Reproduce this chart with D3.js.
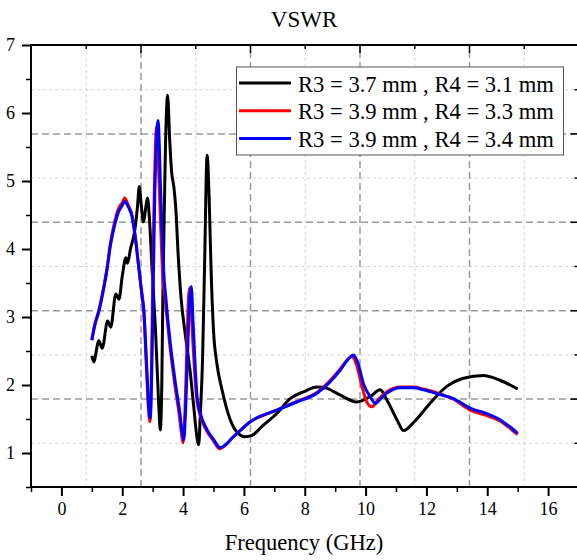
<!DOCTYPE html>
<html>
<head>
<meta charset="utf-8">
<script src="https://cdn.jsdelivr.net/npm/d3@7"></script>
<style>
  body { margin: 0; background: #fff; }
  text { font-family: "Liberation Serif", "Times New Roman", serif; }
</style>
</head>
<body>
<div id="chart"></div>
<script>
// frequency (GHz), VSWR
const seriesBlack = [
  [1.00, 2.43], [1.06, 2.34], [1.23, 2.65], [1.34, 2.54], [1.52, 2.94], [1.62, 2.85],
  [1.79, 3.34], [1.89, 3.26], [2.00, 3.60], [2.12, 3.87], [2.17, 3.79], [2.27, 4.00],
  [2.42, 4.30], [2.50, 4.62], [2.56, 4.92], [2.63, 4.62], [2.70, 4.40], [2.77, 4.60],
  [2.83, 4.75], [2.90, 4.40], [2.98, 3.70], [3.09, 2.84], [3.20, 1.70], [3.25, 1.34],
  [3.30, 2.00], [3.34, 3.50], [3.42, 5.50], [3.49, 6.26], [3.56, 5.60], [3.62, 5.15],
  [3.70, 4.90], [3.76, 4.60], [3.84, 3.90], [3.93, 3.30], [4.07, 2.75], [4.24, 2.17],
  [4.35, 1.68], [4.45, 1.25], [4.51, 1.12], [4.57, 1.60], [4.64, 2.37], [4.71, 3.84],
  [4.79, 5.38], [4.86, 4.70], [4.92, 3.70], [5.00, 2.80], [5.11, 2.32], [5.28, 1.93],
  [5.55, 1.49], [5.77, 1.31], [6.04, 1.24], [6.27, 1.26], [6.59, 1.39], [7.08, 1.58],
  [7.52, 1.80], [7.96, 1.90], [8.40, 1.97], [8.73, 1.95], [9.17, 1.85], [9.71, 1.75],
  [10.15, 1.83], [10.48, 1.93], [10.70, 1.78], [11.03, 1.49], [11.25, 1.33], [11.60, 1.46],
  [12.12, 1.73], [12.67, 1.98], [13.22, 2.10], [13.87, 2.14], [14.42, 2.07], [15.00, 1.94]
]
const seriesRed = [
  [1.00, 2.66], [1.10, 2.90], [1.23, 3.10], [1.39, 3.44], [1.50, 3.72], [1.61, 4.08],
  [1.75, 4.40], [1.88, 4.60], [2.00, 4.68], [2.08, 4.75], [2.20, 4.64], [2.32, 4.50],
  [2.45, 4.10], [2.54, 3.74], [2.63, 3.38], [2.71, 3.05], [2.80, 2.20], [2.86, 1.65],
  [2.91, 1.46], [2.96, 2.20], [3.00, 3.50], [3.05, 4.80], [3.09, 5.50], [3.13, 5.80],
  [3.17, 5.50], [3.21, 5.00], [3.27, 4.25], [3.34, 3.54], [3.40, 3.30], [3.48, 2.95],
  [3.56, 2.60], [3.73, 2.00], [3.89, 1.50], [3.95, 1.27], [4.00, 1.15], [4.06, 1.60],
  [4.12, 2.50], [4.18, 3.30], [4.22, 3.43], [4.29, 2.90], [4.37, 2.25], [4.44, 1.83],
  [4.55, 1.57], [4.77, 1.33], [5.00, 1.18], [5.20, 1.06], [5.66, 1.24], [6.21, 1.46],
  [7.08, 1.63], [7.74, 1.76], [8.40, 1.89], [8.80, 2.05], [9.17, 2.24], [9.40, 2.37],
  [9.55, 2.42], [9.70, 2.30], [9.88, 1.98], [10.04, 1.75], [10.21, 1.68], [10.40, 1.78],
  [10.70, 1.90], [11.14, 1.97], [11.57, 1.97], [11.90, 1.94], [12.45, 1.87], [12.89, 1.79],
  [13.44, 1.63], [13.98, 1.55], [14.42, 1.47], [14.70, 1.38], [15.00, 1.27]
]
const seriesBlue = [
  [1.00, 2.66], [1.10, 2.88], [1.23, 3.08], [1.39, 3.42], [1.50, 3.70], [1.61, 4.05],
  [1.75, 4.35], [1.88, 4.55], [2.00, 4.64], [2.08, 4.70], [2.20, 4.62], [2.32, 4.48],
  [2.45, 4.10], [2.54, 3.74], [2.63, 3.40], [2.71, 3.10], [2.81, 2.22], [2.87, 1.70],
  [2.92, 1.51], [2.97, 2.20], [3.02, 3.50], [3.07, 4.80], [3.12, 5.55], [3.18, 5.89],
  [3.22, 5.50], [3.25, 5.00], [3.31, 4.25], [3.38, 3.54], [3.42, 3.35], [3.50, 2.95],
  [3.58, 2.61], [3.75, 2.02], [3.91, 1.53], [3.97, 1.30], [4.02, 1.19], [4.08, 1.60],
  [4.15, 2.50], [4.22, 3.30], [4.27, 3.45], [4.33, 2.90], [4.40, 2.25], [4.46, 1.83],
  [4.57, 1.58], [4.79, 1.34], [5.00, 1.20], [5.22, 1.08], [5.66, 1.24], [6.21, 1.46],
  [7.08, 1.63], [7.74, 1.75], [8.40, 1.88], [8.80, 2.03], [9.17, 2.22], [9.45, 2.39],
  [9.60, 2.44], [9.75, 2.32], [9.93, 2.02], [10.15, 1.83], [10.32, 1.73], [10.50, 1.80],
  [10.70, 1.88], [11.14, 1.96], [11.57, 1.96], [11.90, 1.93], [12.45, 1.86], [12.89, 1.80],
  [13.44, 1.66], [13.98, 1.58], [14.42, 1.49], [14.70, 1.40], [15.00, 1.29]
]
const legendLabels = [
  'R3 = 3.7 mm , R4 = 3.1 mm',
  'R3 = 3.9 mm , R4 = 3.3 mm',
  'R3 = 3.9 mm , R4 = 3.4 mm'
]
const seriesColors = ['#000000', '#ff0000', '#0000ff']

const xMajorTicks = [0, 2, 4, 6, 8, 10, 12, 14, 16]
const xMinorTicks = [-1, 1, 3, 5, 7, 9, 11, 13, 15]
const yMajorTicks = [1, 2, 3, 4, 5, 6, 7]
const yMinorTicks = [0.5, 1.5, 2.5, 3.5, 4.5, 5.5, 6.5]
// grid comes from a 10-division layer: odd steps dotted, even steps dashed
const xGridDark = [2.6, 6.2, 9.8, 13.4]
const xGridLight = [0.8, 4.4, 8.0, 11.6, 15.2]
const yGridDark = [1.8, 3.1, 4.4, 5.7]
const yGridLight = [1.15, 2.45, 3.75, 5.05, 6.35]

const width = 577
const height = 560
const plot = { left: 31, right: 578.5, top: 45, bottom: 487 }

const x = d3.scaleLinear().domain([-1, 17]).range([plot.left, plot.right])
const y = d3.scaleLinear().domain([0.5, 7]).range([plot.bottom, plot.top])

const svg = d3.select('#chart').append('svg')
  .attr('width', width)
  .attr('height', height)
  .style('display', 'block')

svg.append('rect').attr('width', width).attr('height', height).attr('fill', '#fff')

const plotH = plot.bottom - plot.top
const plotW = plot.right - plot.left

// grid lines
function gridLayer (axis, translate, color, dash, sw) {
  const g = svg.append('g').attr('transform', translate).call(axis)
  g.select('.domain').remove()
  g.selectAll('text').remove()
  g.selectAll('line')
    .attr('stroke', color)
    .attr('stroke-dasharray', dash)
    .attr('stroke-width', sw)
}
gridLayer(d3.axisBottom(x).tickValues(xGridLight).tickSize(-plotH), `translate(0,${plot.bottom})`, '#d4d4d4', '3,3', 1)
gridLayer(d3.axisLeft(y).tickValues(yGridLight).tickSize(-plotW), `translate(${plot.left},0)`, '#d4d4d4', '3,3', 1)
gridLayer(d3.axisBottom(x).tickValues(xGridDark).tickSize(-plotH), `translate(0,${plot.bottom})`, '#9a9a9a', '7,4', 1.5)
gridLayer(d3.axisLeft(y).tickValues(yGridDark).tickSize(-plotW), `translate(${plot.left},0)`, '#9a9a9a', '7,4', 1.5)

// curves
const line = d3.line()
  .x(d => x(d[0]))
  .y(d => y(d[1]))
  .curve(d3.curveMonotoneX)

const allSeries = [seriesBlack, seriesRed, seriesBlue]
allSeries.forEach((s, i) => {
  svg.append('path')
    .datum(s)
    .attr('d', line)
    .attr('fill', 'none')
    .attr('stroke', seriesColors[i])
    .attr('stroke-width', 3)
    .attr('stroke-linejoin', 'round')
})

// axes and ticks
function tickLayer (axis, translate, sw, withText, fontSize) {
  const g = svg.append('g').attr('transform', translate).call(axis)
  g.select('.domain').remove()
  g.selectAll('line').attr('stroke', '#000').attr('stroke-width', sw)
  if (!withText) g.selectAll('text').remove()
  else g.selectAll('text')
    .attr('fill', '#000')
    .style('font-size', fontSize + 'px')
    .style('font-family', '"Liberation Serif", "Times New Roman", serif')
  return g
}
tickLayer(d3.axisBottom(x).tickValues(xMajorTicks).tickSize(9).tickPadding(6).tickFormat(d3.format('d')),
  `translate(0,${plot.bottom})`, 2, true, 18)
tickLayer(d3.axisBottom(x).tickValues(xMinorTicks).tickSize(5).tickFormat(''),
  `translate(0,${plot.bottom})`, 1.5, false)
tickLayer(d3.axisLeft(y).tickValues(yMajorTicks).tickSize(9).tickPadding(7).tickFormat(d3.format('d')),
  `translate(${plot.left},0)`, 2, true, 18)
tickLayer(d3.axisLeft(y).tickValues(yMinorTicks).tickSize(5).tickFormat(''),
  `translate(${plot.left},0)`, 1.5, false)
// inward ticks on top and right follow the grid layer
tickLayer(d3.axisTop(x).tickValues(xGridDark).tickSize(-8).tickFormat(''), `translate(0,${plot.top})`, 1.5, false)
tickLayer(d3.axisTop(x).tickValues(xGridLight).tickSize(-4).tickFormat(''), `translate(0,${plot.top})`, 1.5, false)
tickLayer(d3.axisRight(y).tickValues(yGridDark).tickSize(-8).tickFormat(''), `translate(${plot.right},0)`, 1.5, false)
tickLayer(d3.axisRight(y).tickValues(yGridLight).tickSize(-4).tickFormat(''), `translate(${plot.right},0)`, 1.5, false)

svg.append('rect')
  .attr('x', plot.left)
  .attr('y', plot.top)
  .attr('width', plotW)
  .attr('height', plotH)
  .attr('fill', 'none')
  .attr('stroke', '#000')
  .attr('stroke-width', 2)

// legend
const legend = svg.append('g')
legend.append('rect')
  .attr('x', 236.5)
  .attr('y', 67)
  .attr('width', 327)
  .attr('height', 88)
  .attr('fill', '#fff')
  .attr('stroke', '#555')
  .attr('stroke-width', 1)
legendLabels.forEach((label, i) => {
  const cy = 83 + i * 27.7
  legend.append('line')
    .attr('x1', 239)
    .attr('x2', 291)
    .attr('y1', cy)
    .attr('y2', cy)
    .attr('stroke', seriesColors[i])
    .attr('stroke-width', 3)
  legend.append('text')
    .attr('x', 298)
    .attr('y', cy + 8.5)
    .style('font-size', '22.6px')
    .text(label)
})

// titles
svg.append('text')
  .attr('x', 304)
  .attr('y', 27)
  .attr('text-anchor', 'middle')
  .style('font-size', '23px')
  .text('VSWR')

svg.append('text')
  .attr('x', 304)
  .attr('y', 550)
  .attr('text-anchor', 'middle')
  .style('font-size', '22.6px')
  .text('Frequency (GHz)')
</script>
</body>
</html>
